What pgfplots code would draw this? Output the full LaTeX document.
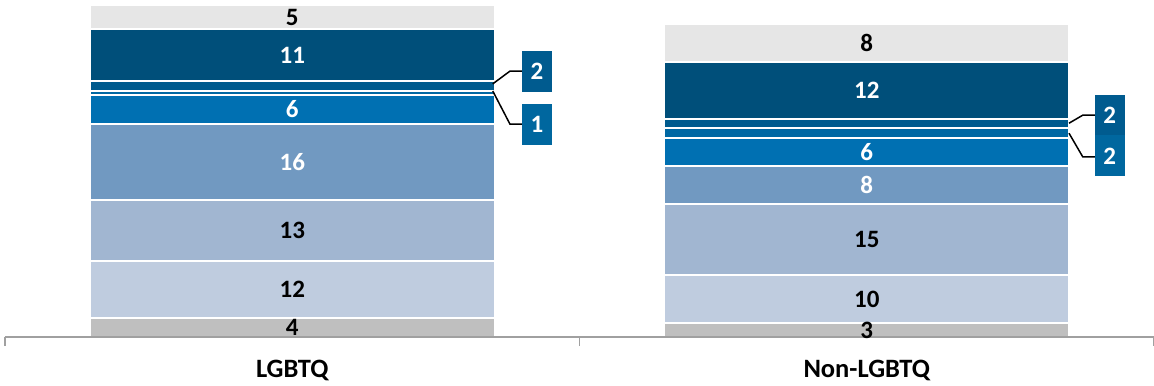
\documentclass[border=0pt]{standalone}
\usepackage{fontspec}
\setmainfont{Carlito}
\usepackage{pgfplots}
\pgfplotsset{compat=1.18}
\definecolor{c1}{HTML}{BFBFBF}
\definecolor{c2}{HTML}{BFCCDF}
\definecolor{c3}{HTML}{A1B6D1}
\definecolor{c4}{HTML}{7199C1}
\definecolor{c5}{HTML}{0070B2}
\definecolor{c6}{HTML}{0068A3}
\definecolor{c7}{HTML}{005B8E}
\definecolor{c8}{HTML}{004F7A}
\definecolor{c9}{HTML}{E6E6E6}
\definecolor{boxA}{HTML}{005B8F}
\definecolor{boxB}{HTML}{00679F}
\definecolor{axgray}{HTML}{A0A0A0}
\pgfplotstableread{
x y label
0 2 4
0 10 12
0 22.5 13
0 67.5 5
1 1.5 3
1 8 10
1 20.5 15
1 62 8
}\blacklabels
\pgfplotstableread{
x y label
0 37 16
0 48 6
0 59.5 11
1 32 8
1 39 6
1 52 12
}\whitelabels
\begin{document}
\begin{tikzpicture}
\pgfplotsset{base/.style={
  scale only axis, width=1149pt, height=337pt,
  xmin=-0.5, xmax=1.5, ymin=0, ymax=71.1, clip=false,
}}
\begin{axis}[base,
  ybar stacked, bar width=405pt,
  axis y line=none, axis x line*=bottom,
  axis on top,
  x axis line style={draw=axgray, line width=1.6pt},
  xtick={-0.5,0.5,1.5}, xticklabels={},
  tick align=outside, major tick length=9pt,
  xtick style={draw=axgray, line width=1.2pt},
  extra x ticks={0,1}, extra x tick labels={LGBTQ,Non-LGBTQ},
  extra x tick style={major tick length=0pt,
     xticklabel style={anchor=center, yshift=-33pt, font=\fontsize{26.5}{31}\selectfont\bfseries, text=black}},
  every axis plot/.append style={draw=white, line width=2pt},
]
\addplot[fill=c1] coordinates {(0,4) (1,3)};
\addplot[fill=c2] coordinates {(0,12) (1,10)};
\addplot[fill=c3] coordinates {(0,13) (1,15)};
\addplot[fill=c4] coordinates {(0,16) (1,8)};
\addplot[fill=c5] coordinates {(0,6) (1,6)};
\addplot[fill=c6] coordinates {(0,1) (1,2)};
\addplot[fill=c7] coordinates {(0,2) (1,2)};
\addplot[fill=c8] coordinates {(0,11) (1,12)};
\addplot[fill=c9] coordinates {(0,5) (1,8)};
\coordinate (bl) at (rel axis cs:0,0);
\coordinate (tr) at (rel axis cs:1,1);
\end{axis}
\begin{axis}[base, hide axis]
\addplot[draw=none, mark=none, nodes near coords, point meta=explicit symbolic,
  nodes near coords style={anchor=center, text=black, font=\fontsize{25}{29}\selectfont\bfseries}]
  table[x=x, y=y, meta=label] {\blacklabels};
\addplot[draw=none, mark=none, nodes near coords, point meta=explicit symbolic,
  nodes near coords style={anchor=center, text=white, font=\fontsize{25}{29}\selectfont\bfseries}]
  table[x=x, y=y, meta=label] {\whitelabels};
% leader lines
\addplot[black, line width=1.5pt, mark=none] coordinates {(0.349,53.4) (0.379,56.1) (0.400,56.1)};
\addplot[black, line width=1.5pt, mark=none] coordinates {(0.349,51.9) (0.379,44.9) (0.400,44.9)};
\addplot[black, line width=1.5pt, mark=none] coordinates {(1.352,45.1) (1.376,46.8) (1.397,46.8)};
\addplot[black, line width=1.5pt, mark=none] coordinates {(1.352,43.0) (1.376,38.0) (1.397,38.0)};
% callout boxes
\addplot[draw=none, mark=none, nodes near coords, point meta=explicit symbolic,
  nodes near coords style={anchor=center, fill=boxA, text=white, inner sep=0pt,
    minimum width=30pt, minimum height=41pt, font=\fontsize{25}{29}\selectfont\bfseries}]
  table[meta=label] {
x y label
0.426 56.0 2
1.423 46.8 2
};
\addplot[draw=none, mark=none, nodes near coords, point meta=explicit symbolic,
  nodes near coords style={anchor=center, fill=boxB, text=white, inner sep=0pt,
    minimum width=30pt, minimum height=41pt, font=\fontsize{25}{29}\selectfont\bfseries}]
  table[meta=label] {
x y label
0.426 44.9 1
1.423 38.2 2
};
\end{axis}
\pgfresetboundingbox
\path ([shift={(-5pt,-48pt)}]bl) rectangle (tr);
\end{tikzpicture}
\end{document}
